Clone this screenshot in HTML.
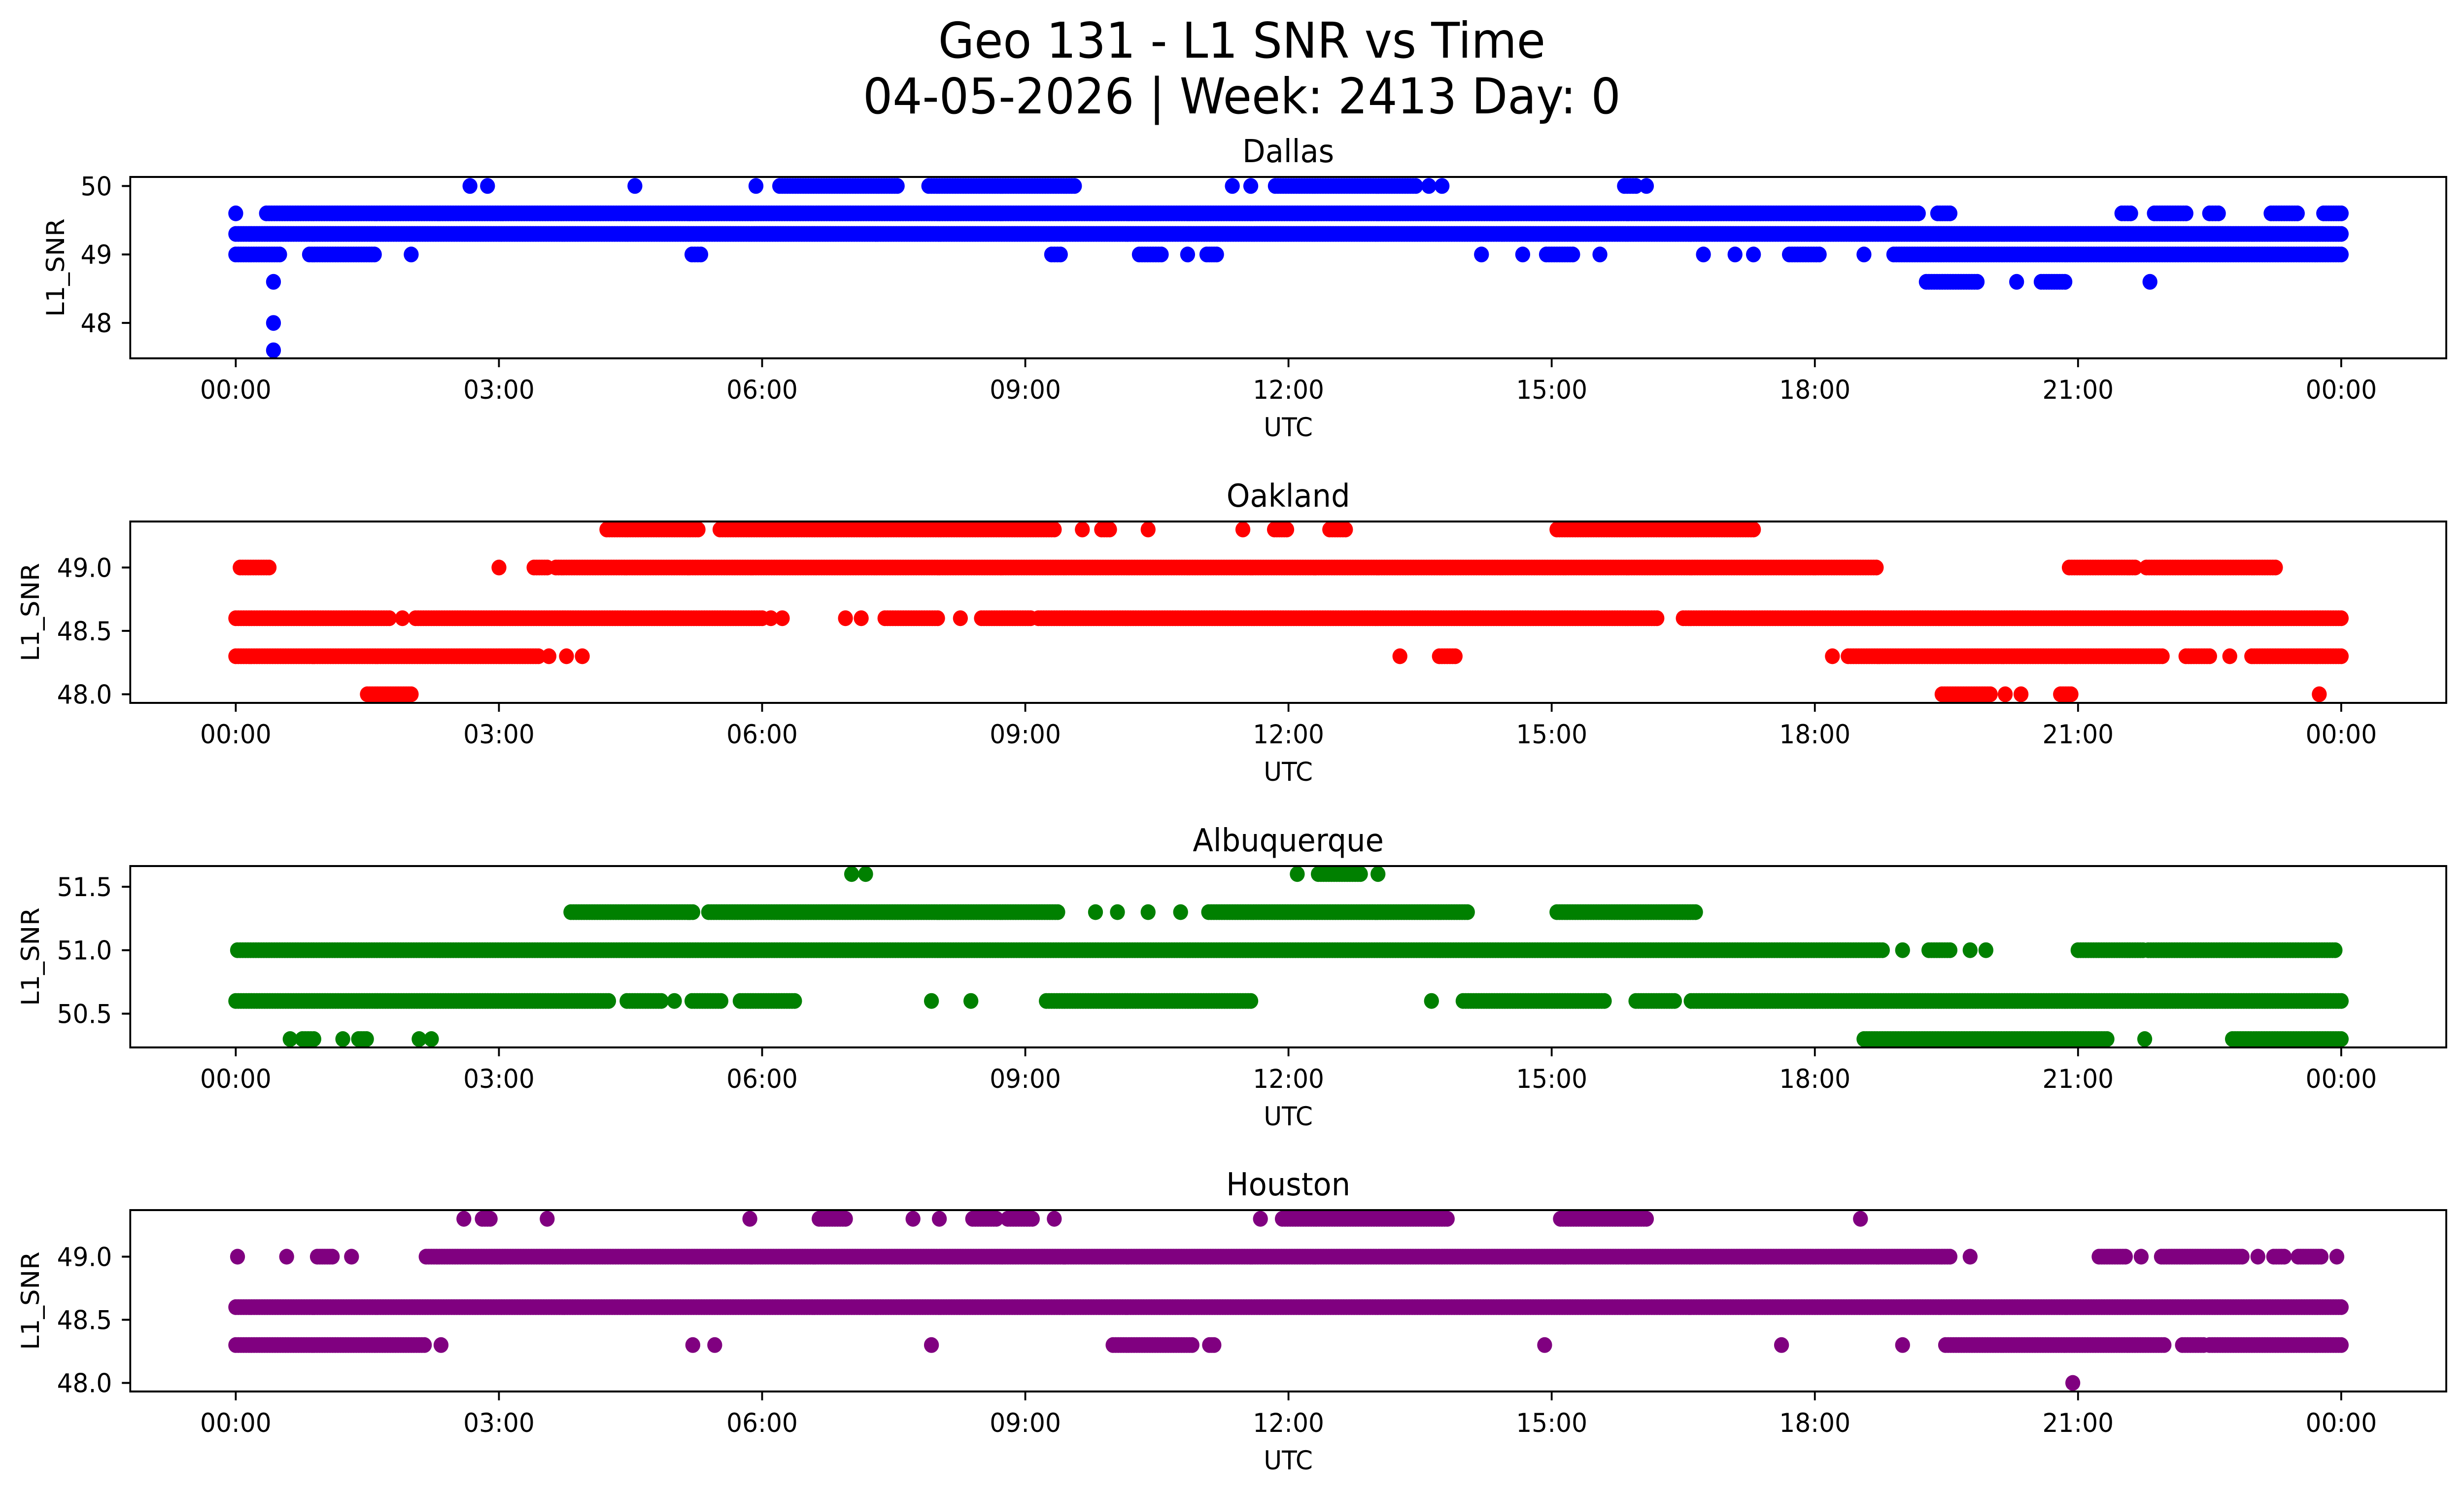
<!DOCTYPE html>
<html><head><meta charset="utf-8"><style>
html,body{margin:0;padding:0;background:#fff;overflow:hidden;width:100%;height:100%}
svg{display:block;width:100vw;height:100vh;font-family:"DejaVu Sans","Liberation Sans",sans-serif}
</style></head><body>
<svg id="fig" viewBox="0 0 5278 3033" preserveAspectRatio="none" xmlns="http://www.w3.org/2000/svg">
<rect width="5278" height="3033" fill="#fff"/>
<text x="2660" y="117" font-size="100" text-anchor="middle">Geo 131 - L1 SNR vs Time</text>
<text x="2660" y="230" font-size="100" text-anchor="middle">04-05-2026 | Week: 2413 Day: 0</text>
</svg>
<script>
// Each run: [SNR value, start hour, end hour]; start==end is a single sample
const tickHours = [0,3,6,9,12,15,18,21,24];
const tickLabels = ["00:00","03:00","06:00","09:00","12:00","15:00","18:00","21:00","00:00"];
const stationNames = ["Dallas","Oakland","Albuquerque","Houston"];
const dallasTicks = [48,49,50];
const oaklandTicks = [48.0,48.5,49.0];
const albuquerqueTicks = [50.5,51.0,51.5];
const houstonTicks = [48.0,48.5,49.0];
const dallasRuns = [
 [49.3,0,24],
 [49.6,0,0],[49.6,0.35,19.18],[49.6,19.4,19.54],[49.6,21.5,21.6],[49.6,21.87,22.23],[49.6,22.5,22.6],[49.6,23.2,23.5],[49.6,23.8,24],
 [49.0,0,0.5],[49.0,0.84,1.58],[49.0,2.0,2.0],[49.0,5.2,5.3],[49.0,9.3,9.4],[49.0,10.3,10.55],[49.0,10.85,10.85],[49.0,11.07,11.18],[49.0,14.2,14.2],[49.0,14.67,14.67],[49.0,14.94,15.24],[49.0,15.55,15.55],[49.0,16.73,16.73],[49.0,17.09,17.09],[49.0,17.3,17.3],[49.0,17.71,18.05],[49.0,18.56,18.56],[49.0,18.9,24],
 [50.0,2.67,2.67],[50.0,2.87,2.87],[50.0,4.55,4.55],[50.0,5.93,5.93],[50.0,6.2,7.54],[50.0,7.9,9.56],[50.0,11.36,11.36],[50.0,11.57,11.57],[50.0,11.85,13.45],[50.0,13.6,13.6],[50.0,13.75,13.75],[50.0,15.83,15.96],[50.0,16.08,16.08],
 [48.6,0.43,0.43],[48.6,19.27,19.85],[48.6,20.3,20.3],[48.6,20.58,20.85],[48.6,21.82,21.82],
 [48.0,0.43,0.43],[47.6,0.43,0.43]
];
const oaklandRuns = [
 [48.6,0,1.75],[48.6,1.9,1.9],[48.6,2.05,6.0],[48.6,6.1,6.1],[48.6,6.23,6.23],[48.6,6.95,6.95],[48.6,7.13,7.13],[48.6,7.4,8.0],[48.6,8.26,8.26],[48.6,8.5,9.06],[48.6,9.15,16.2],[48.6,16.5,24],
 [48.3,0,3.45],[48.3,3.57,3.57],[48.3,3.77,3.77],[48.3,3.95,3.95],[48.3,13.27,13.27],[48.3,13.72,13.9],[48.3,18.2,18.2],[48.3,18.38,21.96],[48.3,22.23,22.5],[48.3,22.73,22.73],[48.3,22.98,24],
 [48.0,1.5,2.0],[48.0,19.45,20.0],[48.0,20.17,20.17],[48.0,20.35,20.35],[48.0,20.8,20.92],[48.0,23.75,23.75],
 [49.0,0.05,0.38],[49.0,3.0,3.0],[49.0,3.4,3.55],[49.0,3.65,18.7],[49.0,20.9,21.65],[49.0,21.78,23.25],
 [49.3,4.23,5.27],[49.3,5.52,9.33],[49.3,9.65,9.65],[49.3,9.87,9.96],[49.3,10.4,10.4],[49.3,11.48,11.48],[49.3,11.84,11.98],[49.3,12.47,12.65],[49.3,15.06,17.3]
];
const albuquerqueRuns = [
 [51.0,0.02,18.77],[51.0,19.0,19.0],[51.0,19.3,19.54],[51.0,19.77,19.77],[51.0,19.95,19.95],[51.0,21.0,21.74],[51.0,21.8,23.93],
 [50.6,0,4.25],[50.6,4.46,4.85],[50.6,5.0,5.0],[50.6,5.2,5.53],[50.6,5.75,6.37],[50.6,7.93,7.93],[50.6,8.38,8.38],[50.6,9.24,11.57],[50.6,13.63,13.63],[50.6,13.99,15.6],[50.6,15.96,16.4],[50.6,16.59,24],
 [50.3,0.62,0.62],[50.3,0.76,0.89],[50.3,1.22,1.22],[50.3,1.4,1.49],[50.3,2.09,2.09],[50.3,2.23,2.23],[50.3,18.56,21.33],[50.3,21.76,21.76],[50.3,22.76,24],
 [51.3,3.82,5.21],[51.3,5.39,9.37],[51.3,9.8,9.8],[51.3,10.05,10.05],[51.3,10.4,10.4],[51.3,10.77,10.77],[51.3,11.09,14.04],[51.3,15.06,16.64],
 [51.6,7.02,7.02],[51.6,7.18,7.18],[51.6,12.1,12.1],[51.6,12.34,12.82],[51.6,13.02,13.02]
];
const houstonRuns = [
 [48.6,0,24],
 [49.0,0.02,0.02],[49.0,0.58,0.58],[49.0,0.93,1.1],[49.0,1.32,1.32],[49.0,2.17,19.54],[49.0,19.77,19.77],[49.0,21.24,21.54],[49.0,21.72,21.72],[49.0,21.95,22.87],[49.0,23.05,23.05],[49.0,23.23,23.35],[49.0,23.51,23.77],[49.0,23.95,23.95],
 [48.3,0,2.15],[48.3,2.34,2.34],[48.3,5.21,5.21],[48.3,5.46,5.46],[48.3,7.93,7.93],[48.3,10.0,10.9],[48.3,11.1,11.15],[48.3,14.92,14.92],[48.3,17.62,17.62],[48.3,19.0,19.0],[48.3,19.49,21.98],[48.3,22.19,22.43],[48.3,22.5,24],
 [49.3,2.6,2.6],[49.3,2.81,2.9],[49.3,3.55,3.55],[49.3,5.86,5.86],[49.3,6.65,6.95],[49.3,7.72,7.72],[49.3,8.02,8.02],[49.3,8.4,8.67],[49.3,8.8,9.08],[49.3,9.33,9.33],[49.3,11.68,11.68],[49.3,11.93,13.81],[49.3,15.1,16.08],[49.3,18.52,18.52],
 [48.0,20.94,20.94]
];

const NS="http://www.w3.org/2000/svg";
const svg=document.getElementById('fig');
const L=279,R=5240,X0=505,PXH=(5015-505)/24;
function xs(h){return X0+h*PXH;}
function mk(tag,attrs,parent){const e=document.createElementNS(NS,tag);for(const k in attrs)e.setAttribute(k,attrs[k]);(parent||svg).appendChild(e);return e;}

const panels=[
 {runs:dallasRuns,ticks:dallasTicks,dec:0,color:"#0000ff",top:359,ymin:47.483,ymax:50.132,lx:120},
 {runs:oaklandRuns,ticks:oaklandTicks,dec:1,color:"#ff0000",top:1058,ymin:47.932,ymax:49.363,lx:66},
 {runs:albuquerqueRuns,ticks:albuquerqueTicks,dec:1,color:"#008000",top:1757,ymin:50.234,ymax:51.663,lx:66},
 {runs:houstonRuns,ticks:houstonTicks,dec:1,color:"#800080",top:2455,ymin:47.932,ymax:49.369,lx:66}
];
const H=368;
panels.forEach((p,i)=>{
  const g=mk('g',{});
  
  
  const bot=p.top+H;
  const ys=v=>bot-(v-p.ymin)/(p.ymax-p.ymin)*H;
  const pts=mk('g',{fill:p.color},g);
  
  
  p.runs.forEach(r=>{
    const v=r[0],a=r[1],b=r[2];
    const n=Math.max(0,Math.round((b-a)/0.03));
    for(let k=0;k<=n;k++){
      const h=n?a+(b-a)*k/n:a;
      const c=mk('circle',{cx:xs(h).toFixed(1),cy:ys(v).toFixed(1),r:16},pts);
      
      
    }
  });
  const fr=mk('rect',{x:L,y:p.top,width:R-L,height:H,fill:'none',stroke:'#000','stroke-width':4},g);
  
  
  tickHours.forEach((h,j)=>{
    mk('line',{x1:xs(h),x2:xs(h),y1:bot,y2:bot+18,stroke:'#000','stroke-width':4},g);
    const t=mk('text',{x:xs(h),y:bot+82,'font-size':53,'text-anchor':'middle'},g);
    t.textContent=tickLabels[j];
    
    
  });
  p.ticks.forEach(v=>{
    const y=ys(v);
    mk('line',{x1:L-18,x2:L,y1:y,y2:y,stroke:'#000','stroke-width':4},g);
    const t=mk('text',{x:240,y:y+19,'font-size':53,'text-anchor':'end'},g);
    t.textContent=v.toFixed(p.dec);
    
    
  });
  const xl=mk('text',{x:(L+R)/2,y:bot+158,'font-size':53,'text-anchor':'middle'},g);
  xl.textContent='UTC';
  
  
  const cy=p.top+H/2;
  const yl=mk('text',{x:p.lx,y:cy,'font-size':53,'text-anchor':'middle','dominant-baseline':'central',transform:`rotate(-90 ${p.lx} ${cy})`},g);
  yl.textContent='L1_SNR';
  
  
  const tt=mk('text',{x:(L+R)/2,y:p.top-30,'font-size':64,'text-anchor':'middle'},g);
  tt.textContent=stationNames[i];
  
  
});
</script>
</body></html>
